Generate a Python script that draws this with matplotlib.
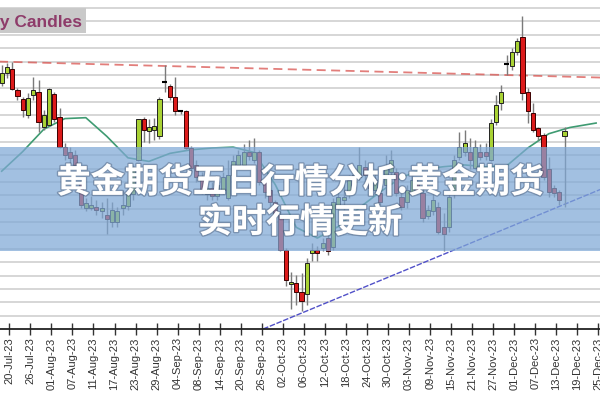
import matplotlib
matplotlib.use("Agg")
import matplotlib.pyplot as plt
import matplotlib.patheffects as pe
from matplotlib.patches import Rectangle
import numpy as np

# ---------------- data ----------------
tick_labels = ["20-Jul-23", "26-Jul-23", "01-Aug-23", "07-Aug-23", "11-Aug-23", "17-Aug-23",
               "23-Aug-23", "29-Aug-23", "04-Sep-23", "08-Sep-23", "14-Sep-23", "20-Sep-23",
               "26-Sep-23", "02-Oct-23", "06-Oct-23", "12-Oct-23", "18-Oct-23", "24-Oct-23",
               "30-Oct-23", "03-Nov-23", "09-Nov-23", "15-Nov-23", "21-Nov-23", "27-Nov-23",
               "01-Dec-23", "07-Dec-23", "13-Dec-23", "19-Dec-23", "25-Dec-23"]

opens = [2061, 2072, 2077, 2053, 2043, 2025, 2048, 2051, 2012, 2014,
         2049, 2023, 1989, 1984, 1980, 1949, 1921, 1921, 1922, 1917,
         1913, 1905, 1905, 1921, 1923, 1936, 1975, 2020, 2007, 2008,
         2001, 2062, 2057, 2045, 2029, 2029, 1988, 1969, 1955, 1936,
         1943, 1934, 1941, 1932, 1958, 1969, 1969, 1984, 1975, 1984,
         1950, 1941, 1927, 1913, 1874, 1835, 1837, 1826, 1824, 1870,
         1874, 1876, 1887, 1877, 1922, 1930, 1936, 1950, 1956, 1967,
         1958, 1941, 1938, 1947, 1961, 1961, 1933, 1927, 1939, 1949,
         1938, 1912, 1917, 1922, 1899, 1899, 1936, 1978, 1983, 1983,
         1966, 1984, 1983, 1975, 2017, 2039, 2082, 2080, 2096, 2113,
         2051, 2027, 2010, 2003, 1964, 1943, 1939, 2001]
highs = [2081, 2083, 2085, 2055, 2045, 2050, 2068, 2064, 2031, 2055,
         2051, 2033, 1994, 1989, 1986, 1955, 1932, 1934, 1930, 1927,
         1932, 1927, 1922, 1941, 1943, 1969, 2021, 2023, 2020, 2022,
         2045, 2081, 2060, 2068, 2031, 2031, 1990, 1975, 1961, 1949,
         1950, 1952, 1961, 1975, 1980, 1986, 1992, 1997, 1999, 1986,
         1955, 1943, 1930, 1919, 1876, 1849, 1846, 1848, 1865, 1882,
         1878, 1887, 1894, 1932, 1939, 1947, 1958, 1964, 1989, 1975,
         1964, 1961, 1943, 1980, 1986, 1966, 1938, 1947, 1958, 1955,
         1943, 1924, 1936, 1927, 1915, 1936, 1980, 2006, 2008, 1999,
         1997, 1992, 1994, 2020, 2048, 2059, 2092, 2100, 2111, 2136,
         2055, 2039, 2011, 2005, 1978, 1947, 1941, 2011]
lows = [2057, 2067, 2053, 2042, 2023, 2022, 2042, 2006, 2008, 2013,
        2017, 1988, 1975, 1971, 1964, 1921, 1917, 1919, 1913, 1910,
        1891, 1899, 1899, 1913, 1919, 1930, 1973, 1995, 1994, 1997,
        1998, 2051, 2042, 2025, 2026, 1986, 1961, 1950, 1936, 1930,
        1930, 1930, 1936, 1930, 1952, 1966, 1966, 1975, 1971, 1947,
        1932, 1923, 1910, 1872, 1833, 1807, 1812, 1805, 1812, 1861,
        1861, 1872, 1868, 1874, 1919, 1919, 1932, 1945, 1952, 1952,
        1939, 1936, 1924, 1936, 1957, 1934, 1919, 1921, 1936, 1937,
        1905, 1908, 1913, 1891, 1872, 1894, 1932, 1975, 1979, 1964,
        1964, 1975, 1975, 1973, 2014, 2031, 2070, 2076, 2092, 2042,
        2016, 2006, 1997, 1952, 1933, 1933, 1924, 1922]
closes = [2072, 2079, 2054, 2046, 2031, 2044, 2053, 2017, 2025, 2054,
          2020, 1989, 1980, 1977, 1969, 1924, 1926, 1924, 1919, 1921,
          1908, 1919, 1917, 1924, 1938, 1964, 2020, 2008, 2011, 2013,
          2043, 2062, 2045, 2029, 2029, 1988, 1966, 1955, 1941, 1943,
          1934, 1947, 1955, 1958, 1973, 1980, 1984, 1979, 1984, 1950,
          1939, 1927, 1913, 1874, 1840, 1838, 1826, 1816, 1859, 1874,
          1870, 1882, 1872, 1927, 1933, 1933, 1952, 1958, 1969, 1958,
          1943, 1952, 1928, 1967, 1975, 1938, 1922, 1941, 1952, 1941,
          1910, 1919, 1930, 1894, 1891, 1933, 1975, 1989, 1994, 1975,
          1989, 1978, 1979, 2016, 2036, 2051, 2082, 2096, 2108, 2050,
          2029, 2008, 2001, 1956, 1939, 1938, 1930, 2007]

# moving-average line, sampled every 4 candles (last point at right edge)
ma_pos = [0, 4, 8, 12, 16, 20, 24, 28, 32, 36, 40, 44, 48, 52, 56, 60, 64, 68,
          72, 76, 80, 84, 88, 92, 96, 100, 104, 108, 113]
ma_val = [1962, 1984, 2009, 2021, 2022, 2001, 1977, 1973, 1982, 1986, 1988, 1989,
          1983, 1947, 1899, 1887, 1900, 1921, 1939, 1955, 1964, 1967, 1969, 1967,
          1968, 1988, 2004, 2011, 2016]

# red dashed resistance line and blue support trend line (end points)
res_pos = [-1, 114]
res_val = [2085, 2067]
sup_pos = [49.7, 114]
sup_val = [1785, 1942]

# ---------------- figure ----------------
fig = plt.figure(figsize=(6, 4), dpi=100)
fig.patch.set_facecolor("white")
ax = fig.add_axes([0, 1 - 329 / 400, 1, 329 / 400])
ax.set_facecolor("white")

n = len(opens)
xs = np.arange(n)
o = np.array(opens, float)
h = np.array(highs, float)
l = np.array(lows, float)
c = np.array(closes, float)

up_col = "#a9d234"
dn_col = "#dc1a1a"

# grid
ax.set_yticks(np.arange(1800, 2146, 15))
ax.grid(axis="y", color="#d6d6d6", linewidth=1.4, zorder=0)
ax.tick_params(axis="y", left=False, labelleft=False)

# MA and lines
ax.plot(ma_pos, ma_val, color="#3f9b72", linewidth=1.2, zorder=2)
ax.plot(res_pos, res_val, color="#d9534f", linewidth=1.3, linestyle=(0, (5, 3)),
        alpha=0.75, zorder=2)
ax.plot(sup_pos, sup_val, color="#5050c8", linewidth=1.0, linestyle=(0, (4, 1.2)),
        zorder=2)

# wicks
ax.vlines(xs, l, h, color="#7a7a7a", linewidth=1.0, zorder=3)
# bodies
up = c > o
dn = c < o
dj = c == o
ax.bar(xs[up], (c - o)[up], bottom=o[up], width=0.78, color=up_col,
       edgecolor="#222222", linewidth=0.7, zorder=4)
ax.bar(xs[dn], (o - c)[dn], bottom=c[dn], width=0.78, color=dn_col,
       edgecolor="#3a0000", linewidth=0.7, zorder=4)
ax.hlines(o[dj], xs[dj] - 0.5, xs[dj] + 0.5, color="black", linewidth=1.5, zorder=4)

ax.set_xlim(-0.32, 113.74)
ax.set_ylim(1785, 2154)

tick_pos = [1.45 + 4 * k for k in range(len(tick_labels))]
ax.set_xticks(tick_pos)
ax.set_xticklabels(tick_labels, rotation=90, fontfamily="Liberation Sans",
                   fontsize=8, color="#333333")
ax.tick_params(axis="x", direction="inout", length=8, width=1, color="#333333", pad=2)

for s in ["left", "right", "top"]:
    ax.spines[s].set_visible(False)
ax.spines["bottom"].set_color("#222222")
ax.spines["bottom"].set_linewidth(1.3)

# title box
fig.patches.append(Rectangle((0, 1 - 33 / 400), 86 / 600, 25 / 400,
                             transform=fig.transFigure, facecolor="#c9c9c9",
                             edgecolor="none", zorder=5))
fig.text(82 / 600, 1 - 27 / 400, "Daily Candles", ha="right", va="baseline",
         fontsize=12.5, fontweight="bold", color="#8e3c6a",
         fontfamily="Liberation Sans", zorder=6)

# banner
fig.patches.append(Rectangle((0, 1 - 251 / 400), 1, 104 / 400,
                             transform=fig.transFigure, facecolor="#7fa8d6",
                             alpha=0.72, edgecolor="none", zorder=7))
fx = [pe.withStroke(linewidth=2, foreground=(0.2, 0.25, 0.35, 0.35))]
fig.text(0.5, 1 - 182 / 400, "黄金期货五日行情分析:黄金期货", ha="center", va="center",
         fontsize=24.5, fontweight="bold", color="white",
         family=["Noto Sans CJK SC", "DejaVu Sans"], zorder=8, path_effects=fx)
fig.text(0.5, 1 - 222 / 400, "实时行情更新", ha="center", va="center",
         fontsize=24.5, fontweight="bold", color="white",
         family=["Noto Sans CJK SC", "DejaVu Sans"], zorder=8, path_effects=fx)

fig.savefig("out.png", dpi=100)
